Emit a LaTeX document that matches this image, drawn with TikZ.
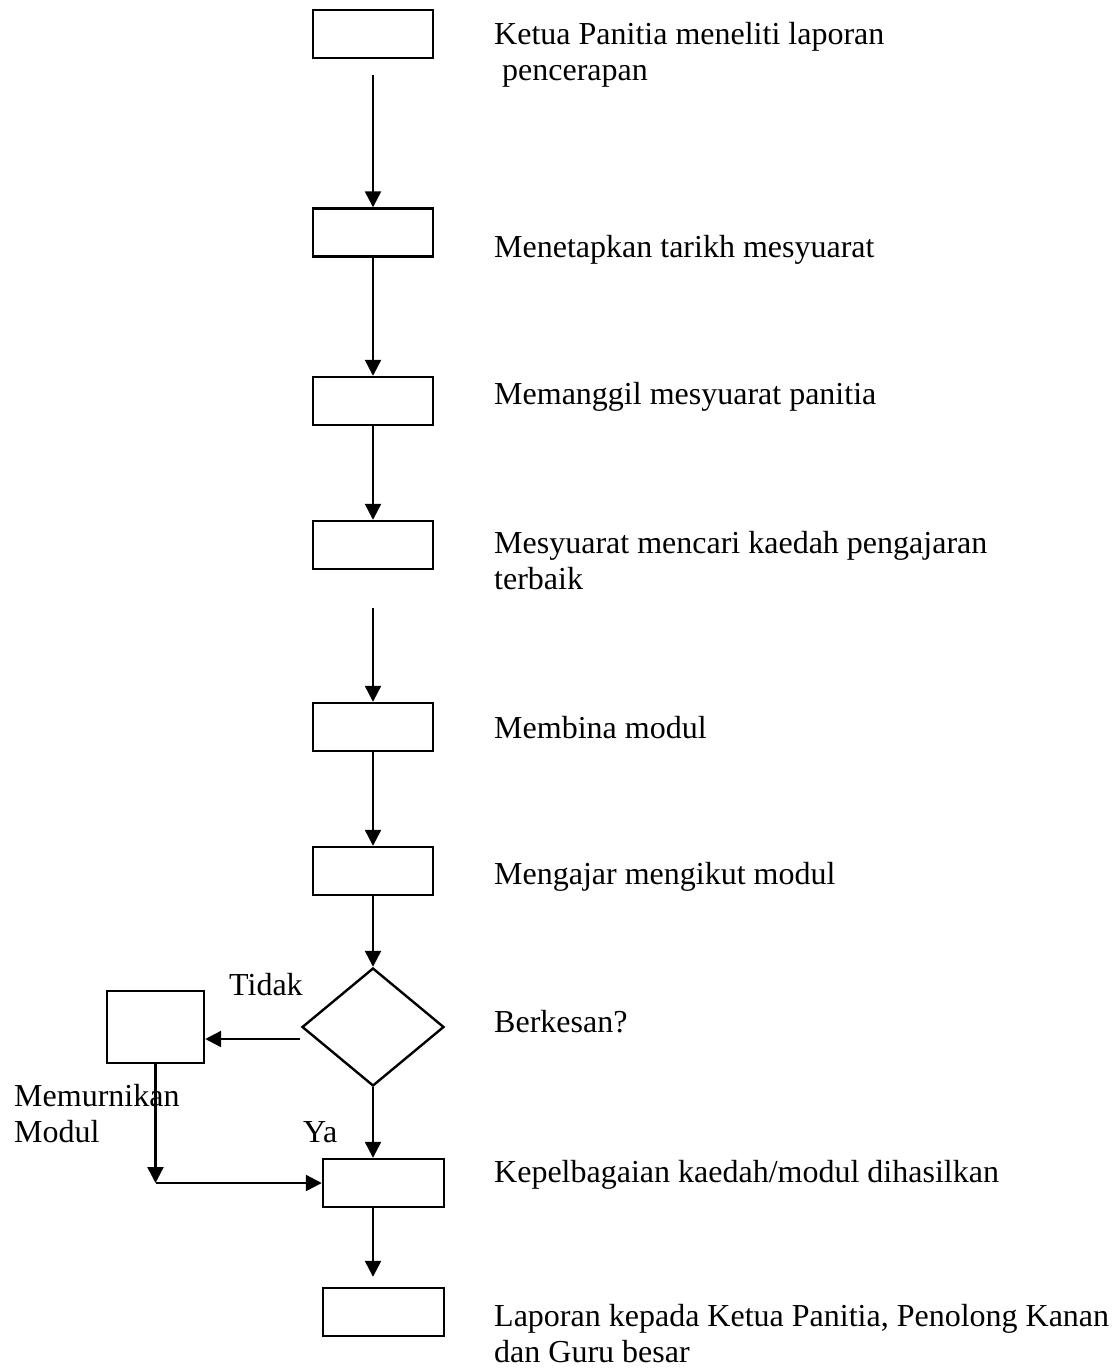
\documentclass[tikz,border=0pt]{standalone}
\usepackage{fontspec}
\setmainfont{Liberation Serif}
\usetikzlibrary{shapes,arrows.meta,calc,positioning}

\begin{document}
\begin{tikzpicture}[->,>={Triangle[length=6pt,width=6pt]},
      x=0.375pt,y=-0.375pt,line width=0.9pt,
  every node/.append style={font=\fontsize{12pt}{13.5pt}\selectfont}]
  \tikzstyle{stepbox} = [draw,rectangle,minimum width=45pt,minimum height=18pt,inner sep=0pt]
  \tikzstyle{decide} = [draw,diamond,minimum width=53.25pt,minimum height=44.25pt,inner sep=0pt]
  \tikzstyle{note} = [anchor=base west,inner sep=0pt,align=left,color=black]
  \useasboundingbox (0,0) rectangle (1118,1368);
  \node (1_1) [stepbox] at (373,34) {};
  \node (1_2) [stepbox] at (373,232.5) {};
  \node (1_3) [stepbox] at (373,401) {};
  \node (1_4) [stepbox] at (373,545) {};
  \node (1_5) [stepbox] at (373,727) {};
  \node (1_6) [stepbox] at (373,871) {};
  \node (1_7) [decide] at (373,1027) {};
  \node (1_8) [stepbox,minimum width=45.4pt] at (383.5,1183) {};
  \node (1_9) [stepbox,minimum width=45.4pt] at (383.5,1312) {};
  \node (1_10) [stepbox,minimum width=36.4pt,minimum height=27pt] at (155.5,1027) {};
  \node (2_1) [note] at (493,81) {Ketua Panitia meneliti laporan\\ \ pencerapan};
  \node (2_2) [note] at (493,258) {Menetapkan tarikh mesyuarat};
  \node (2_3) [note] at (493,404) {Memanggil mesyuarat panitia};
  \node (2_4) [note] at (493,589) {Mesyuarat mencari kaedah pengajaran\\terbaik};
  \node (2_5) [note] at (493,738) {Membina modul};
  \node (2_6) [note] at (493,884) {Mengajar mengikut modul};
  \node (2_7) [note] at (493,1032) {Berkesan?};
  \node (2_8) [note] at (493,1182) {Kepelbagaian kaedah/modul dihasilkan};
  \node (2_9) [note] at (493,1362) {Laporan kepada Ketua Panitia, Penolong Kanan\\dan Guru besar};
  \node (2_10) [note] at (228,995) {Tidak};
  \node (2_11) [note] at (302,1142) {Ya};
  \node (2_12) [note] at (13,1142) {Memurnikan\\Modul};
  \draw[shorten <=6pt] (1_1) -- (1_2);
  \draw (1_2) -- (1_3);
  \draw (1_3) -- (1_4);
  \draw[shorten <=14.25pt] (1_4) -- (1_5);
  \draw (1_5) -- (1_6);
  \draw (1_6) -- (1_7);
  \draw (1_7.south) -- (1_7.south |- 1_8.north);
  \draw[shorten >=3.75pt] (1_8.south -| 1_7.south) -- (1_9.north -| 1_7.south);
  \coordinate (3_1) at (300,1039);
  \coordinate (3_2) at (1_10.south |- 1_8.west);
  \draw (3_1) -- (3_1 -| 1_10.east);
  \draw (1_10.south) -- (3_2);
  \draw (3_2) -- (1_8.west);
\end{tikzpicture}
\end{document}
